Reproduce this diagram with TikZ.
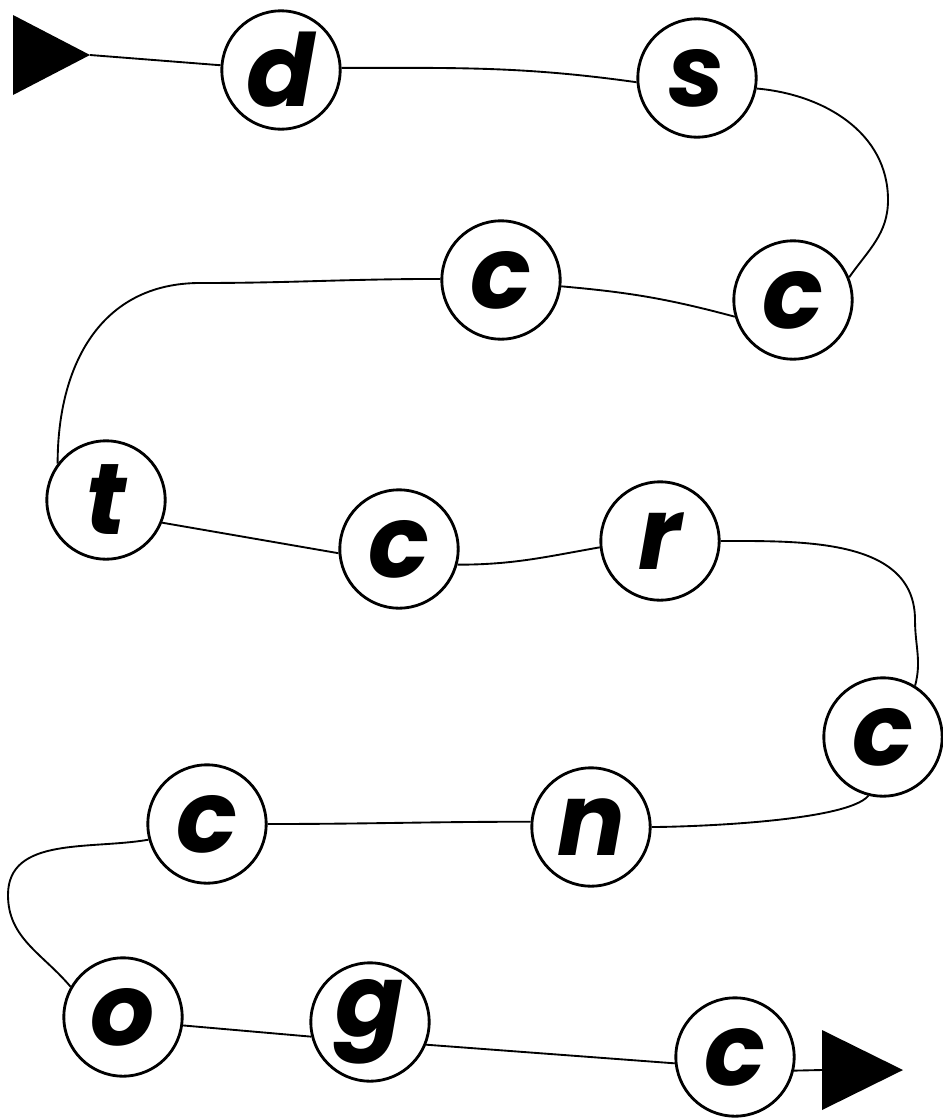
\documentclass[tikz,border=0pt]{standalone}
\usepackage{fontspec}
\setmainfont{Poppins}

\begin{document}
\begin{tikzpicture}[
    x=0.03cm, y=0.03cm,
    % letter circles
    letter/.style={
        draw, circle, line width=2.4pt, minimum size=3.55cm, inner sep=0pt,
        font=\fontsize{86}{86}\selectfont\bfseries\itshape
    },
    link/.style={line width=1.6pt},
]
\useasboundingbox (0,0) rectangle (942,-1119);

% ============================================================
% NODES, row by row (coordinates in pixels, y downwards)
% ============================================================
\coordinate (start) at (90,-55);
\node[letter] (d)  at (281,-70)   {d};
\node[letter] (s)  at (697,-78)   {s};

\node[letter] (cB) at (501,-280)  {c};
\node[letter] (cA) at (793,-300)  {c};

\node[letter] (t)  at (106,-500)  {t};
\node[letter] (cC) at (399,-549)  {c};
\node[letter] (r)  at (660,-541)  {r};

\node[letter] (cD) at (883,-737)  {c};
\node[letter] (cE) at (207,-824)  {c};
\node[letter] (n)  at (591,-827)  {n};

\node[letter] (o)  at (123,-1017) {o};
\node[letter] (g)  at (370,-1022) {g};
\node[letter] (cF) at (735,-1057) {c};
\coordinate (stop) at (822,-1070);

% start / end markers
\fill (start) -- ++(-77,40) -- ++(0,-80) -- cycle;
\fill (stop) -- ++(0,40) -- ++(81,-40) -- ++(-81,-40) -- cycle;

% ============================================================
% THE SNAKE
% ============================================================
\draw[link] (start) -- (d);
\draw[link] (d.2) to[out=0, in=172] (s.184);
\draw[link] (s.-10) to[out=-5, in=90] (888,-200) to[out=-90, in=55] (cA.22);
\draw[link] (cA.196) to[out=165, in=-5] (cB.-6);
\draw[link] (cB.179) to[out=180, in=0] (200,-283)
    to[out=180, in=90, looseness=1.1] (t.143);
\draw[link] (t.-22) -- (cC.184);
\draw[link] (cC.-15) to[out=0, in=190] (r.186);
\draw[link] (r.0) to[out=0, in=90] (915,-620) to[out=-90, in=75] (cD.58);
\draw[link] (cD.-104) to[out=-130, in=0, looseness=0.4] (n.0);
\draw[link] (n.175) to[out=180, in=0] (cE.0);
\draw[link] (cE.195) to[out=190, in=90] (8,-895) to[out=-90, in=130] (o.150);
\draw[link] (o.-8) -- (g.194);
\draw[link] (g.-22) -- (cF.186);
\draw[link] (cF.-13) -- (stop);

\end{tikzpicture}
\end{document}
